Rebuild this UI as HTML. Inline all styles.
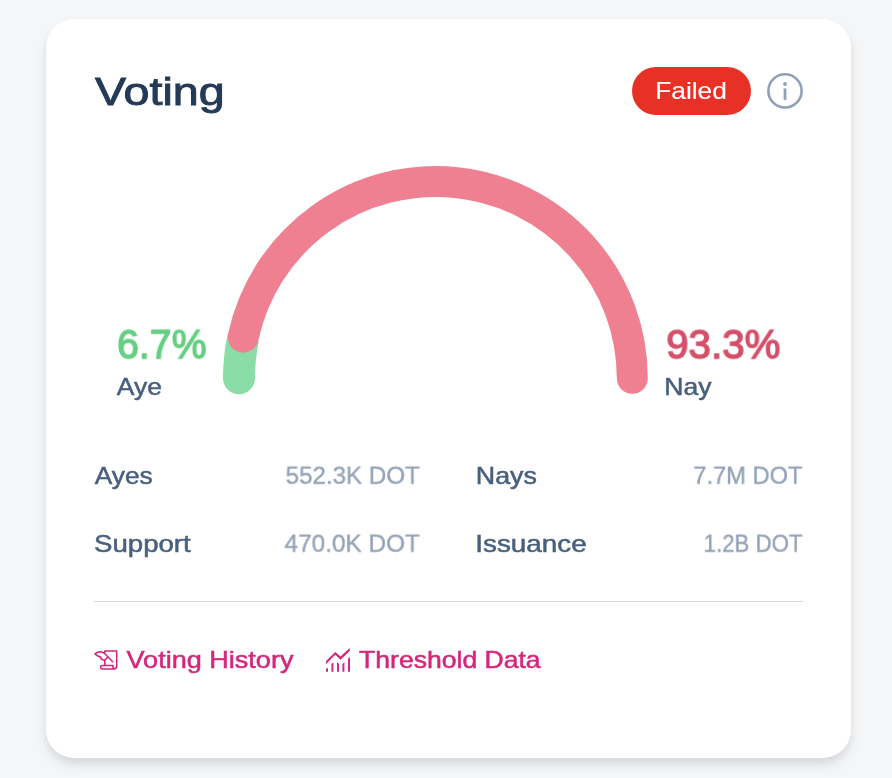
<!DOCTYPE html>
<html lang="en">
<head>
<meta charset="utf-8">
<title>Voting</title>
<style>
html,body{margin:0;padding:0;}
body{width:892px;height:778px;overflow:hidden;background:#f5f6f8;font-family:"Liberation Sans",sans-serif;position:relative;}
.card{position:absolute;left:46px;top:19px;width:805px;height:739px;background:#fff;border-radius:28px;
  filter:drop-shadow(0 8px 6px rgba(0,0,0,.07)) drop-shadow(0 4px 4px rgba(0,0,0,.06));}
h2,dl,dt,dd,p{margin:0;padding:0;}
.t{position:absolute;margin:0;padding:0;font-weight:400;font-style:normal;text-decoration:none;white-space:nowrap;line-height:1;transform-origin:0 0;display:block;will-change:transform;}
.badge{position:absolute;left:632px;top:67px;width:119px;height:48px;border-radius:24px;background:#e83126;}
.line{position:absolute;left:94px;top:601px;width:709px;height:1px;background:#d2d8e0;}
svg{position:absolute;overflow:visible;}
</style>
</head>
<body>
<main class="voting-card">
<div class="card"></div>
<header class="card-head">
<h2 class="t" id="title" style="left:95px;top:72px;font-size:39px;color:#243a57;transform:translate(0.10px,0.35px) scaleX(1.1953);-webkit-text-stroke:0.9px #243a57;">Voting</h2>
<div class="badge"></div>
<span class="t" id="failed" style="left:655px;top:79px;font-size:24px;color:#ffffff;transform:translate(0.16px,0.45px) scaleX(1.0968);-webkit-text-stroke:0.1px #ffffff;">Failed</span>
<svg id="info" style="left:0;top:0" width="892" height="778" viewBox="0 0 892 778">
  <circle cx="785" cy="90.9" r="16.6" fill="none" stroke="#90a0b7" stroke-width="2.6"/>
  <circle cx="785" cy="84" r="1.9" fill="#90a0b7"/>
  <path d="M785 88.4V99.9" stroke="#90a0b7" stroke-width="2.8" fill="none"/>
</svg>
</header>
<section class="vote-progress">
<svg id="gauge" style="left:0;top:0" width="892" height="778" viewBox="0 0 892 778">
  <circle cx="239.00" cy="378.20" r="16" fill="#8adda6"/>
  <path d="M239.00 378.20A196.6 196.6 0 0 1 243.15 338.00" fill="none" stroke="#8adda6" stroke-width="32"/>
  <path d="M243.24 337.10A196.7 196.7 0 0 1 632.30 378.20" fill="none" stroke="#ee8091" stroke-width="31" stroke-linecap="round"/>
</svg>
<strong class="t" id="ayep" style="left:117px;top:323px;font-size:41.5px;color:#66cf83;transform:translate(0.12px,0.20px) scaleX(0.9447);-webkit-text-stroke:1.4px #66cf83;">6.7%</strong>
<span class="t" id="aye" style="left:116px;top:375px;font-size:24px;color:#485f7d;transform:translate(0.77px,0.35px) scaleX(1.1020);-webkit-text-stroke:0.5px #485f7d;">Aye</span>
<strong class="t" id="nayp" style="left:666px;top:323px;font-size:41.5px;color:#d5506a;transform:translate(0.14px,0.20px) scaleX(0.9714);-webkit-text-stroke:1.4px #d5506a;">93.3%</strong>
<span class="t" id="nay" style="left:664px;top:375px;font-size:24px;color:#485f7d;transform:translate(0.21px,0.35px) scaleX(1.1062);-webkit-text-stroke:0.5px #485f7d;">Nay</span>
</section>
<dl class="vote-stats">
<dt class="t" id="l1" style="left:94px;top:463px;font-size:24px;color:#485f7d;transform:translate(0.77px,0.55px) scaleX(1.0934);-webkit-text-stroke:0.5px #485f7d;">Ayes</dt>
<dd class="t" id="v1" style="left:285px;top:463px;font-size:24.5px;color:#93a1b6;transform:translate(0.56px,0.72px) scaleX(0.9854);-webkit-text-stroke:0.35px #93a1b6;">552.3K DOT</dd>
<dt class="t" id="l2" style="left:475px;top:463px;font-size:24px;color:#485f7d;transform:translate(0.75px,0.55px) scaleX(1.1187);-webkit-text-stroke:0.5px #485f7d;">Nays</dt>
<dd class="t" id="v2" style="left:693px;top:463px;font-size:24.5px;color:#93a1b6;transform:translate(0.19px,0.72px) scaleX(0.9675);-webkit-text-stroke:0.35px #93a1b6;">7.7M DOT</dd>
<dt class="t" id="l3" style="left:93px;top:531px;font-size:24px;color:#485f7d;transform:translate(0.96px,0.55px) scaleX(1.1514);-webkit-text-stroke:0.5px #485f7d;">Support</dt>
<dd class="t" id="v3" style="left:284px;top:531px;font-size:24.5px;color:#93a1b6;transform:translate(0.55px,0.73px) scaleX(0.9930);-webkit-text-stroke:0.35px #93a1b6;">470.0K DOT</dd>
<dt class="t" id="l4" style="left:475px;top:531px;font-size:24px;color:#485f7d;transform:translate(0.32px,0.55px) scaleX(1.1593);-webkit-text-stroke:0.5px #485f7d;">Issuance</dt>
<dd class="t" id="v4" style="left:703px;top:531px;font-size:24.5px;color:#93a1b6;transform:translate(0.60px,0.73px) scaleX(0.9072);-webkit-text-stroke:0.35px #93a1b6;">1.2B DOT</dd>
</dl>
<div class="line"></div>
<footer class="card-links">
<svg id="icon-history" style="left:0;top:0" width="892" height="778" viewBox="0 0 892 778" fill="none" stroke="#d5267b" stroke-width="1.55" stroke-linejoin="round" stroke-linecap="round">
  <path d="M104.8 652.9V650.9H116.7V666Q116.7 668.9 113.8 668.9H102.2Q100.7 668.9 100.7 667.5V666.8Q100.7 665.4 102.2 665.4H112.9V666.6Q113 668.9 115 668.9M104.8 660.3V665.4"/>
  <path d="M95.2 653.7Q97.6 651.7 100 651.7Q102.6 651.9 104.4 653.3L112.7 661.7"/>
  <path d="M95.2 653.7Q96.4 656.2 100.6 657Q100.4 659.2 103.2 660Q106 660.3 107.5 657"/>
</svg>
<a class="t" id="k1" style="left:126px;top:648px;font-size:24px;color:#d5267b;transform:translate(0.57px,0.35px) scaleX(1.1268);-webkit-text-stroke:0.5px #d5267b;">Voting History</a>
<svg id="icon-threshold" style="left:0;top:0" width="892" height="778" viewBox="0 0 892 778" fill="none" stroke="#d5267b" stroke-width="1.55" stroke-linejoin="round" stroke-linecap="round">
  <g stroke="none" fill="#d5267b">
    <polygon points="326,661 335.3,651.9 340.5,656.6 349.8,648.1 349.8,650.9 340.5,659.8 335.3,654.7 326,663.9"/>
    <polygon points="326,668.9 328,667.7 328,671.8 326,671.8"/>
    <polygon points="331.4,663.9 333.4,662.3 333.4,671.8 331.4,671.8"/>
    <polygon points="337,662 339,663.9 339,671.8 337,671.8"/>
    <polygon points="342.4,663.9 344.4,662.3 344.4,671.8 342.4,671.8"/>
    <polygon points="348,658.7 350,657.1 350,671.8 348,671.8"/>
  </g>
</svg>
<a class="t" id="k2" style="left:359px;top:648px;font-size:24px;color:#d5267b;transform:translate(0.08px,0.45px) scaleX(1.1063);-webkit-text-stroke:0.5px #d5267b;">Threshold Data</a>
</footer>
</main>
</body>
</html>
